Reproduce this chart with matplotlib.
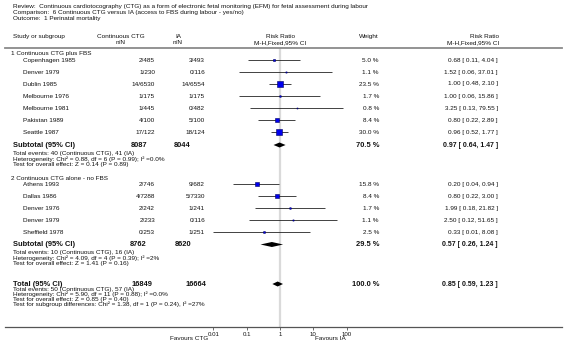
import matplotlib
matplotlib.use('Agg')
import matplotlib.pyplot as plt
from matplotlib.lines import Line2D
import numpy as np

plt.rcParams['font.family'] = ['Liberation Sans', 'DejaVu Sans']

# ---------------- data ----------------
review = "Review:  Continuous cardiotocography (CTG) as a form of electronic fetal monitoring (EFM) for fetal assessment during labour"
comparison = "Comparison:  6 Continuous CTG versus IA (access to FBS during labour - yes/no)"
outcome = "Outcome:  1 Perinatal mortality"

col_headers = ["Study or subgroup", "Continuous CTG", "IA", "Risk Ratio", "Weight", "Risk Ratio"]
col_sub = ["n/N", "n/N", "M-H,Fixed,95% CI", "M-H,Fixed,95% CI"]

g1_title = "1 Continuous CTG plus FBS"
g1_studies = ["Copenhagen 1985", "Denver 1979", "Dublin 1985", "Melbourne 1976",
              "Melbourne 1981", "Pakistan 1989", "Seattle 1987"]
g1_ctg = ["2/485", "1/230", "14/6530", "1/175", "1/445", "4/100", "17/122"]
g1_ia = ["3/493", "0/116", "14/6554", "1/175", "0/482", "5/100", "18/124"]
g1_weight = [5.0, 1.1, 23.5, 1.7, 0.8, 8.4, 30.0]
g1_rr = [0.68, 1.52, 1.00, 1.00, 3.25, 0.80, 0.96]
g1_lo = [0.11, 0.06, 0.48, 0.06, 0.13, 0.22, 0.52]
g1_hi = [4.04, 37.01, 2.10, 15.86, 79.55, 2.89, 1.77]
g1_sub_n = ["8087", "8044"]
g1_sub_w = 70.5
g1_sub_rr = [0.97, 0.64, 1.47]
g1_notes = ["Total events: 40 (Continuous CTG), 41 (IA)",
            "Heterogeneity: Chi\u00b2 = 0.88, df = 6 (P = 0.99); I\u00b2 =0.0%",
            "Test for overall effect: Z = 0.14 (P = 0.89)"]

g2_title = "2 Continuous CTG alone - no FBS"
g2_studies = ["Athens 1993", "Dallas 1986", "Denver 1976", "Denver 1979", "Sheffield 1978"]
g2_ctg = ["2/746", "4/7288", "2/242", "2/233", "0/253"]
g2_ia = ["9/682", "5/7330", "1/241", "0/116", "1/251"]
g2_weight = [15.8, 8.4, 1.7, 1.1, 2.5]
g2_rr = [0.20, 0.80, 1.99, 2.50, 0.33]
g2_lo = [0.04, 0.22, 0.18, 0.12, 0.01]
g2_hi = [0.94, 3.00, 21.82, 51.65, 8.08]
g2_sub_n = ["8762", "8620"]
g2_sub_w = 29.5
g2_sub_rr = [0.57, 0.26, 1.24]
g2_notes = ["Total events: 10 (Continuous CTG), 16 (IA)",
            "Heterogeneity: Chi\u00b2 = 4.09, df = 4 (P = 0.39); I\u00b2 =2%",
            "Test for overall effect: Z = 1.41 (P = 0.16)"]

tot_n = ["16849", "16664"]
tot_w = 100.0
tot_rr = [0.85, 0.59, 1.23]
tot_notes = ["Total events: 50 (Continuous CTG), 57 (IA)",
             "Heterogeneity: Chi\u00b2 = 5.90, df = 11 (P = 0.88); I\u00b2 =0.0%",
             "Test for overall effect: Z = 0.85 (P = 0.40)",
             "Test for subgroup differences: Chi\u00b2 = 1.38, df = 1 (P = 0.24), I\u00b2 =27%"]

xticks = [0.01, 0.1, 1, 10, 100]
xtick_labels = ["0.01", "0.1", "1", "10", "100"]
fav_left = "Favours CTG"
fav_right = "Favours IA"

# ---------------- layout ----------------
W, H = 566, 344
fig = plt.figure(figsize=(W / 100, H / 100), dpi=100)
fig.patch.set_facecolor('white')

FS = 4.55
FSB = 5.4
TC = '#111111'


def T(x, y, s, ha='left', bold=False, size=None, color=TC):
    fig.text(x / W, 1 - y / H, s, ha=ha, va='center',
             fontsize=size if size else (FSB if bold else FS),
             fontweight='bold' if bold else 'normal', color=color)


def hline(y, x0, x1, color, lw):
    fig.add_artist(Line2D([x0 / W, x1 / W], [1 - y / H, 1 - y / H],
                          color=color, lw=lw, transform=fig.transFigure))


# title block
T(13, 6.5, review)
T(13, 12.5, comparison)
T(13, 18.5, outcome)

# column headers
Y_H1, Y_H2 = 36.5, 43
T(13, Y_H1, col_headers[0])
T(121, Y_H1, col_headers[1], ha='center')
T(178, Y_H1, col_headers[2], ha='center')
T(280, Y_H1, col_headers[3], ha='center')
T(379, Y_H1, col_headers[4], ha='right')
T(499, Y_H1, col_headers[5], ha='right')
T(121, Y_H2, col_sub[0], ha='center')
T(178, Y_H2, col_sub[1], ha='center')
T(280, Y_H2, col_sub[2], ha='center')
T(499, Y_H2, col_sub[3], ha='right')

Y_TOP, Y_AX = 47.5, 327
hline(Y_TOP, 5, 562, '#8a8a8a', 1.3)
hline(Y_AX, 5, 562, '#555555', 0.9)

X_CTG, X_IA, X_W, X_CI = 155, 205, 379, 498

# forest axes (log scale), y in row units
ax_l, ax_r = 213.4, 346.6
ax = fig.add_axes([ax_l / W, 1 - Y_AX / H, (ax_r - ax_l) / W, (Y_AX - Y_TOP) / H])
ax.set_xscale('log')
ax.set_xlim(0.01, 100)
ax.set_ylim(Y_AX, Y_TOP)
ax.patch.set_alpha(0)
for s in ax.spines.values():
    s.set_visible(False)
ax.set_yticks([])
ax.set_xticks(xticks)
ax.set_xticklabels(xtick_labels)
ax.minorticks_off()
ax.tick_params(axis='x', length=2.2, width=0.6, color='#555555', labelsize=4.4,
               pad=1.1, labelcolor=TC)
ax.axvline(1, color='#dadada', lw=1.6, zorder=0)


def study_rows(rows_y, studies, ctg, ia, w, rr, lo, hi):
    for y, s, c, a, ww, r, l, h in zip(rows_y, studies, ctg, ia, w, rr, lo, hi):
        T(23, y, s)
        T(X_CTG, y, c, ha='right')
        T(X_IA, y, a, ha='right')
        T(X_W, y, f"{ww:.1f} %", ha='right')
        T(X_CI, y, f"{r:.2f} [ {l:.2f}, {h:.2f} ]", ha='right')
        ax.plot([l, h], [y, y], color='#222222', lw=0.6, solid_capstyle='butt',
                clip_on=False, zorder=2)
        side = max(1.15 * np.sqrt(ww), 1.0)
        ax.plot([r], [y], marker='s', ms=side * 0.72, mfc='#0000ee',
                mec='#000060', mew=0.4, clip_on=False, zorder=3)


def diamond(y, vals, hh=2.5):
    est, lo, hi = vals
    ax.fill([lo, est, hi, est], [y, y - hh, y, y + hh], color='black',
            clip_on=False, zorder=3, lw=0)


def summary_row(y, label, n, wt, vals):
    T(13, y, label, bold=True)
    T(X_W, y, f"{wt:.1f} %", ha='right', bold=True)
    T(X_CI, y, f"{vals[0]:.2f} [ {vals[1]:.2f}, {vals[2]:.2f} ]", ha='right',
      bold=True, size=5.0)
    diamond(y, vals)


# group 1
T(11, 53, g1_title)
g1_y = [60.5, 72.5, 84, 96.5, 108.5, 120.5, 132.5]
study_rows(g1_y, g1_studies, g1_ctg, g1_ia, g1_weight, g1_rr, g1_lo, g1_hi)
summary_row(145, "Subtotal (95% CI)", g1_sub_n, g1_sub_w, g1_sub_rr)
T(147, 145, g1_sub_n[0], ha='right', bold=True)
T(191, 145, g1_sub_n[1], ha='right', bold=True)
for y, s in zip([153.5, 159, 164.5], g1_notes):
    T(13, y, s)

# group 2
T(11, 178, g2_title)
g2_y = [184.5, 196.5, 208.5, 220.5, 232.5]
study_rows(g2_y, g2_studies, g2_ctg, g2_ia, g2_weight, g2_rr, g2_lo, g2_hi)
summary_row(244.5, "Subtotal (95% CI)", g2_sub_n, g2_sub_w, g2_sub_rr)
T(147, 244.5, g2_sub_n[0], ha='right', bold=True)
T(191, 244.5, g2_sub_n[1], ha='right', bold=True)
for y, s in zip([252.5, 258, 263.5], g2_notes):
    T(13, y, s)

# overall
summary_row(284, "Total (95% CI)", tot_n, tot_w, tot_rr)
T(152, 284, tot_n[0], ha='right', bold=True)
T(206, 284, tot_n[1], ha='right', bold=True)
for y, s in zip([289.5, 294.5, 299.5, 304.5], tot_notes):
    T(13, y, s)

T(208, 339, fav_left, ha='right')
T(315, 339, fav_right, ha='left')

fig.savefig('out.png', dpi=100, facecolor='white')
